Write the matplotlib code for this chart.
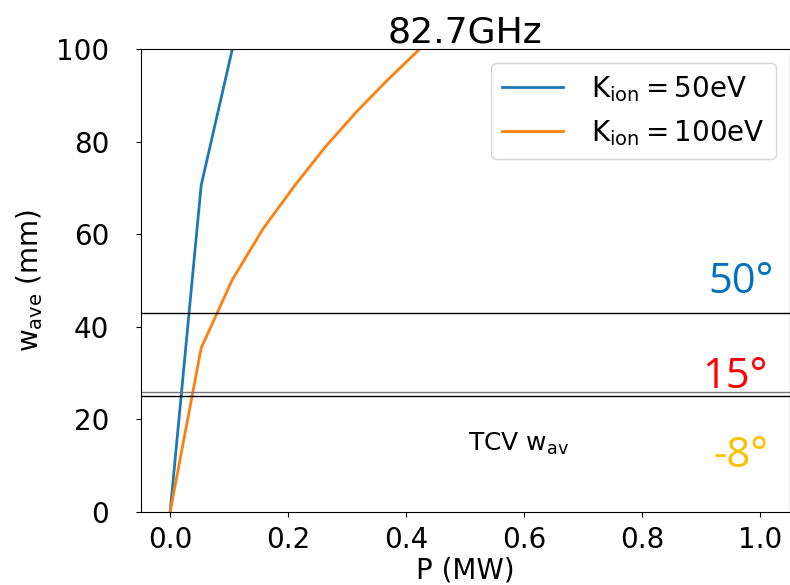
import numpy as np
import matplotlib.pyplot as plt

# --- Data ---
p_50 = [0.0, 0.0526, 0.105, 0.158]
w_50 = [0.0, 70.6, 99.8, 122.0]

p_100 = [0.0, 0.0526, 0.105, 0.158, 0.211, 0.263, 0.316, 0.368, 0.421, 0.474]
w_100 = [0.0, 35.4, 50.1, 61.3, 70.5, 78.9, 86.5, 93.3, 99.8, 105.9]

launch_w = [43, 26, 25]          # horizontal reference widths
launch_labels = ['50°', '15°', '-8°']
launch_colors = ['#0072BD', '#FF0000', '#FFC000']

fig = plt.figure(figsize=(7.9, 5.85), dpi=100)
ax = fig.add_axes([0.178, 0.125, 0.822, 0.791])

ax.plot(p_50, w_50, color='#1f77b4', lw=2, label=r'$\mathrm{K_{ion}=50eV}$')
ax.plot(p_100, w_100, color='#ff7f0e', lw=2, label=r'$\mathrm{K_{ion}=100eV}$')

ax.axhline(launch_w[0], color='black', lw=1)
ax.axhline(launch_w[1], color='#777777', lw=1)
ax.axhline(launch_w[2], color='black', lw=1)

# angle labels (baseline placement)
label_pos = [(1.022, 47.3), (1.012, 26.8), (1.013, 9.7)]
for lab, col, (xx, yy) in zip(launch_labels, launch_colors, label_pos):
    ax.text(xx, yy, lab, color=col, fontsize=30, family='Open Sans',
            ha='right', va='baseline')

ax.text(0.504, 13.2, r'TCV $\mathrm{w_{av}}$', fontsize=18, va='baseline')

ax.set_xlim(-0.05, 1.05)
ax.set_ylim(0, 100)
ax.set_xticks([0.0, 0.2, 0.4, 0.6, 0.8, 1.0])
ax.tick_params(labelsize=20)
ax.tick_params(axis='y', pad=19)
ax.tick_params(axis='x', pad=6.5)
ax.set_xlabel('P (MW)', fontsize=20, labelpad=2)
ax.set_ylabel(r'$\mathrm{w_{ave}}$ (mm)', fontsize=20, labelpad=8)
ax.set_title('82.7GHz', fontsize=26, pad=5)
ax.legend(loc='upper right', fontsize=20, handlelength=2.2, handletextpad=1.0)

fig.savefig('out.png', dpi=100)
